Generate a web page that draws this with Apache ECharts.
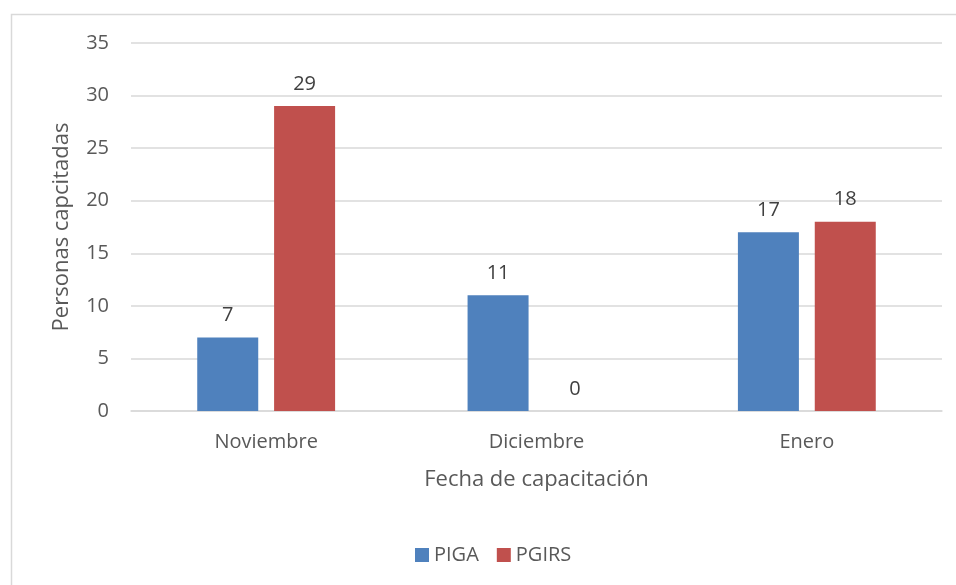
<!DOCTYPE html>
<html>
<head>
    <meta charset="utf-8">
    <title>Personas capacitadas</title>
    <style>
        html, body { margin: 0; padding: 0; background: #fff; }
        #chart { width: 956px; height: 585px; }
    </style>
    <script src="https://cdn.jsdelivr.net/npm/echarts@6/dist/echarts.min.js"></script>
</head>
<body>
    <div id="chart"></div>
    <script>
        // datos
        const meses = ['Noviembre', 'Diciembre', 'Enero'];
        const piga = [7, 11, 17];
        const pgirs = [29, 0, 18];

        const fuente = '"Open Sans", sans-serif';
        const gris = '#595959';

        var myChart = echarts.init(document.getElementById('chart'), null, { renderer: 'canvas' });

        var option = {
            animation: false,
            textStyle: { fontFamily: fuente, color: gris },
            graphic: [{
                type: 'rect',
                shape: { x: 11.5, y: 14.5, width: 1200, height: 1200 },
                style: { fill: 'none', stroke: '#d9d9d9', lineWidth: 1.5 },
                silent: true
            }],
            grid: { left: 131, right: 14, top: 43, bottom: 174 },
            legend: {
                left: 410,
                top: 540,
                itemWidth: 14,
                itemHeight: 14,
                itemGap: 18,
                icon: 'rect',
                textStyle: { fontFamily: fuente, fontSize: 20, color: gris },
                data: ['PIGA', 'PGIRS']
            },
            xAxis: {
                type: 'category',
                data: meses,
                name: 'Fecha de capacitación',
                nameLocation: 'middle',
                nameGap: 58,
                nameTextStyle: { fontFamily: fuente, fontSize: 22, color: gris },
                axisLine: { lineStyle: { color: '#d9d9d9', width: 1.5 } },
                axisTick: { show: false },
                axisLabel: { fontFamily: fuente, fontSize: 20, color: gris, margin: 21 }
            },
            yAxis: {
                type: 'value',
                min: 0,
                max: 35,
                interval: 5,
                name: 'Personas capcitadas',
                nameLocation: 'middle',
                nameGap: 58,
                nameTextStyle: { fontFamily: fuente, fontSize: 22, color: gris },
                axisLine: { show: false },
                axisTick: { show: false },
                axisLabel: { fontFamily: fuente, fontSize: 20, color: gris, margin: 22 },
                splitLine: { lineStyle: { color: '#d9d9d9', width: 1.5 } }
            },
            series: [
                {
                    name: 'PIGA',
                    type: 'bar',
                    data: piga,
                    barWidth: 61,
                    barGap: '26%',
                    itemStyle: { color: '#4F81BD' },
                    label: { show: true, position: 'top', distance: 12, fontFamily: fuente, fontSize: 20, color: '#404040' }
                },
                {
                    name: 'PGIRS',
                    type: 'bar',
                    data: pgirs,
                    barWidth: 61,
                    itemStyle: { color: '#C0504D' },
                    label: { show: true, position: 'top', distance: 12, fontFamily: fuente, fontSize: 20, color: '#404040' }
                }
            ]
        };

        myChart.setOption(option);
        window.addEventListener('resize', myChart.resize);
    </script>
</body>
</html>
